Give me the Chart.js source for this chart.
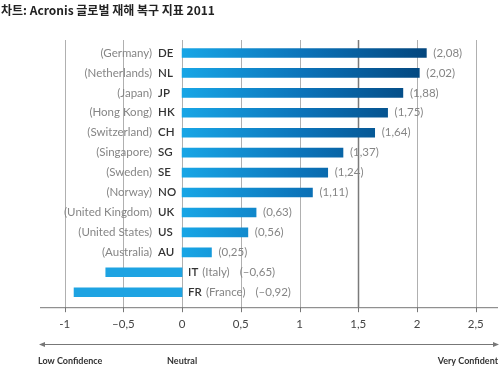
<!DOCTYPE html>
<html>
<head>
<meta charset="utf-8">
<script src="https://cdn.jsdelivr.net/npm/chart.js@4/dist/chart.umd.min.js"></script>
<style>
  body { margin: 0; background: #fff; }
  #wrap { position: relative; width: 500px; height: 367px; }
  #title {
    position: absolute; left: 1px; top: 1px;
    font: bold 12px "Noto Sans CJK KR", "Open Sans", sans-serif;
    color: #222;
  }
</style>
</head>
<body>
<div id="wrap">
  <canvas id="c" width="500" height="367"></canvas>
  <div id="title">차트: Acronis 글로벌 재해 복구 지표 2011</div>
</div>
<script>
const codes = ['DE', 'NL', 'JP', 'HK', 'CH', 'SG', 'SE', 'NO', 'UK', 'US', 'AU', 'IT', 'FR'];
const countries = ['Germany', 'Netherlands', 'Japan', 'Hong Kong', 'Switzerland', 'Singapore',
  'Sweden', 'Norway', 'United Kingdom', 'United States', 'Australia', 'Italy', 'France'];
const scores = [2.08, 2.02, 1.88, 1.75, 1.64, 1.37, 1.24, 1.11, 0.63, 0.56, 0.25, -0.65, -0.92];
const tickValues = [-1, -0.5, 0, 0.5, 1, 1.5, 2, 2.5];
const scaleLabels = ['Low Confidence', 'Neutral', 'Very Confident'];

const font = '"Lato", "Open Sans", sans-serif';

function fmt(v) {
  const s = Math.abs(v).toFixed(2).replace('.', ',');
  return v < 0 ? '–' + s : s;
}

function fmtTick(v) {
  const s = String(Math.abs(v)).replace('.', ',');
  if (v === -1) return '-1';
  return v < 0 ? '–' + s : s;
}

function barFill(ctx) {
  const chart = ctx.chart;
  const v = ctx.raw;
  if (v < 0) return '#1ea3e2';
  const area = chart.chartArea;
  if (!area) return '#1a8fd0';
  const x = chart.scales.x;
  const g = chart.ctx.createLinearGradient(x.getPixelForValue(0), 0, x.getPixelForValue(2.1), 0);
  g.addColorStop(0, '#18a6e6');
  g.addColorStop(0.5, '#0b72b8');
  g.addColorStop(1, '#03457c');
  return g;
}

const decor = {
  id: 'decor',
  beforeDatasetsDraw(chart) {
    const { ctx, chartArea } = chart;
    const x = chart.scales.x;
    const axisY = chartArea.bottom + 5;
    ctx.save();
    tickValues.forEach(v => {
      const px = Math.round(x.getPixelForValue(v)) + 0.5;
      ctx.strokeStyle = v === 1.5 ? '#7a7a7a' : '#b0b0b0';
      ctx.lineWidth = v === 1.5 ? 1.5 : 1;
      ctx.beginPath();
      ctx.moveTo(px, chartArea.top - 3);
      ctx.lineTo(px, axisY);
      ctx.stroke();
      ctx.strokeStyle = '#777';
      ctx.lineWidth = 1;
      ctx.beginPath();
      ctx.moveTo(px, axisY);
      ctx.lineTo(px, axisY + 5);
      ctx.stroke();
    });
    // axis line
    ctx.strokeStyle = '#777';
    ctx.beginPath();
    ctx.moveTo(chartArea.left, axisY + 0.5);
    ctx.lineTo(chartArea.right, axisY + 0.5);
    ctx.stroke();
    // confidence arrow line
    const ay = 344.5;
    ctx.beginPath();
    ctx.moveTo(chartArea.left, ay);
    ctx.lineTo(chartArea.right, ay);
    ctx.stroke();
    ctx.fillStyle = '#777';
    ctx.beginPath();
    ctx.moveTo(chartArea.left - 1, ay);
    ctx.lineTo(chartArea.left + 5, ay - 2.5);
    ctx.lineTo(chartArea.left + 5, ay + 2.5);
    ctx.fill();
    ctx.beginPath();
    ctx.moveTo(chartArea.right + 1, ay);
    ctx.lineTo(chartArea.right - 5, ay - 2.5);
    ctx.lineTo(chartArea.right - 5, ay + 2.5);
    ctx.fill();
    ctx.fillStyle = '#333';
    ctx.font = 'bold 9px ' + font;
    ctx.textBaseline = 'middle';
    ctx.textAlign = 'left';
    ctx.fillText(scaleLabels[0], chartArea.left - 2, 361);
    ctx.textAlign = 'center';
    ctx.fillText(scaleLabels[1], x.getPixelForValue(0), 361);
    ctx.textAlign = 'right';
    ctx.fillText(scaleLabels[2], chartArea.right, 361);
    ctx.restore();
  },
  afterDatasetsDraw(chart) {
    const { ctx } = chart;
    const x = chart.scales.x;
    const x0 = x.getPixelForValue(0);
    const meta = chart.getDatasetMeta(0);
    ctx.save();
    ctx.textBaseline = 'middle';
    meta.data.forEach((bar, i) => {
      const v = scores[i];
      const y = bar.y;
      const name = '(' + countries[i] + ')';
      const val = '(' + fmt(v) + ')';
      if (v >= 0) {
        ctx.font = '600 11.5px ' + font;
        ctx.fillStyle = '#333';
        ctx.textAlign = 'left';
        ctx.fillText(codes[i], x0 - 24, y);
        ctx.font = '11.5px ' + font;
        ctx.fillStyle = '#858585';
        ctx.textAlign = 'right';
        ctx.fillText(name, x0 - 30, y);
        ctx.textAlign = 'left';
        ctx.fillText(val, bar.x + 7, y);
      } else {
        ctx.textAlign = 'left';
        ctx.font = '600 11.5px ' + font;
        ctx.fillStyle = '#333';
        let px = x0 + 6;
        ctx.fillText(codes[i], px, y);
        px += ctx.measureText(codes[i]).width + 4;
        ctx.font = '11.5px ' + font;
        ctx.fillStyle = '#858585';
        ctx.fillText(name, px, y);
        px += ctx.measureText(name).width + 10;
        ctx.fillText(val, px, y);
      }
    });
    ctx.restore();
  }
};

new Chart(document.getElementById('c'), {
  type: 'bar',
  data: {
    labels: codes,
    datasets: [{
      data: scores,
      backgroundColor: barFill,
      barThickness: 9,
      borderWidth: 0,
    }],
  },
  options: {
    indexAxis: 'y',
    responsive: false,
    animation: false,
    layout: { padding: { left: 40, right: 2, top: 43, bottom: 21 } },
    plugins: {
      legend: { display: false },
      tooltip: { enabled: false },
    },
    scales: {
      x: {
        min: -1.21,
        max: 2.69,
        afterBuildTicks: (axis) => {
          axis.ticks = tickValues.map(v => ({ value: v }));
        },
        grid: { display: false, drawTicks: false },
        border: { display: false },
        ticks: {
          padding: 15,
          color: '#444',
          font: { family: font, size: 11.5 },
          callback: (v) => fmtTick(v),
        },
      },
      y: {
        display: false,
      },
    },
  },
  plugins: [decor],
});
</script>
</body>
</html>
